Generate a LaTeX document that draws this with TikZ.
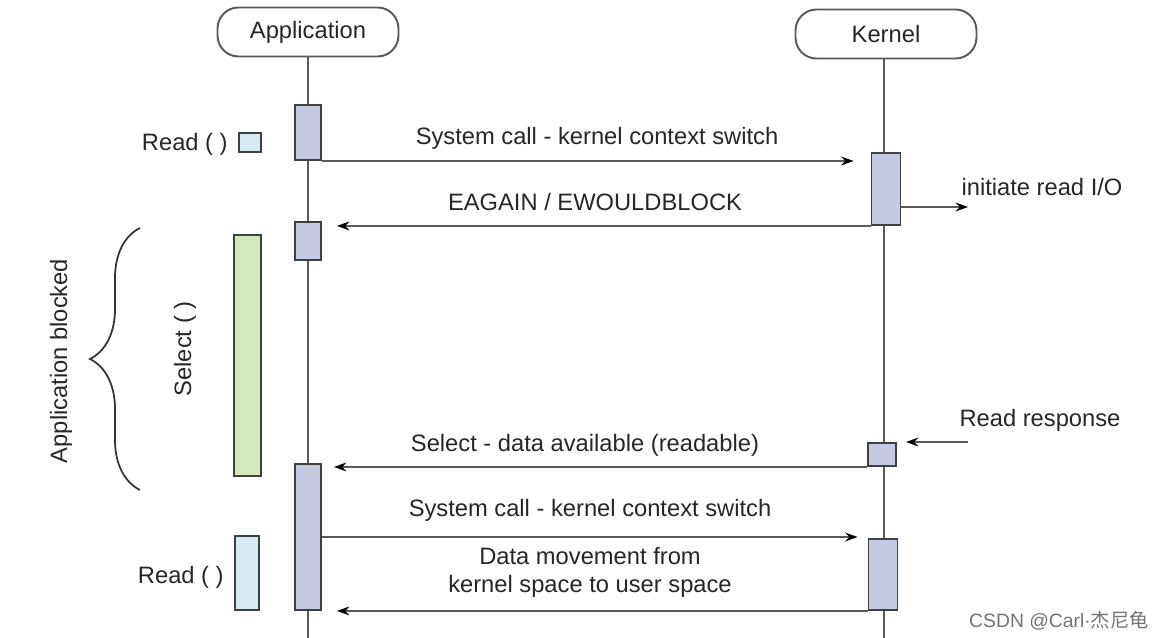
\documentclass[tikz,border=0pt]{standalone}
\usepackage{fontspec}
\setmainfont{Liberation Sans}
\newfontfamily\cjk{Noto Sans CJK SC}
\usepackage{tikz}
\usetikzlibrary{arrows.meta,decorations.pathreplacing}
\definecolor{linegray}{HTML}{5A5A5A}
\definecolor{actblue}{HTML}{C3CAE2}
\definecolor{selgreen}{HTML}{D4E8BE}
\definecolor{readblue}{HTML}{D3EBF1}

\begin{document}
\begin{tikzpicture}[x=0.02cm,y=-0.02cm,font=\fontsize{13.5}{16}\selectfont]
			\tikzstyle{head}=[draw=linegray,line width=1.1pt,rounded corners=0.42cm,minimum width=3.62cm,minimum height=0.98cm,fill=white,text=black!85]
			\tikzstyle{life}=[draw=linegray,line width=1.1pt]
			\tikzstyle{act}=[draw=black!75,line width=1.1pt,fill=actblue,inner sep=0pt,minimum width=0.52cm]
			\tikzstyle{callbox}=[draw=black!75,line width=1.1pt,inner sep=0pt]
			\tikzstyle{msg}=[draw=linegray,line width=1.1pt,-{Stealth[length=7pt,width=5pt,color=black]}]
			\tikzstyle{lbl}=[text=black!85,inner sep=0pt]
			\useasboundingbox (0,0) rectangle (1160,638);
			% lifelines
			\node (app)[head] at (308,32) {Application};
			\node (kern)[head] at (886,34) {Kernel};
			\coordinate (append) at (308,638);
			\coordinate (kernend) at (884,638);
			\draw[life] (app) -- (append);
			\draw[life] (kern.south -| kernend) -- (kernend);

			% activations
			\node (a1)[act,minimum height=1.1cm] at (308,132.5) {};
			\node (k1)[act,minimum width=0.58cm,minimum height=1.44cm] at (886,189) {};
			\node (a2)[act,minimum height=0.76cm] at (308,241) {};
			\node (k2)[act,minimum width=0.56cm,minimum height=0.46cm] at (882,454.5) {};
			\node (a3)[act,minimum height=2.92cm] at (308,537) {};
			\node (k3)[act,minimum width=0.58cm,minimum height=1.42cm] at (883,574.5) {};

			% left side marks
			\node (r1)[callbox,fill=readblue,minimum width=0.44cm,minimum height=0.38cm] at (250,142.5) {};
			\node (sel)[callbox,fill=selgreen,minimum width=0.54cm,minimum height=4.82cm] at (247.5,355.5) {};
			\node (r2)[callbox,fill=readblue,minimum width=0.48cm,minimum height=1.48cm] at (247,573) {};
			\node (r1t)[lbl,anchor=east] at (228,144) {Read ( )};
			\node (r2t)[lbl,anchor=east] at (224,577) {Read ( )};
			\node (selt)[lbl,rotate=90] at (185,349) {Select ( )};
			\draw[draw=black!80,line width=1pt,decorate,decoration={brace,amplitude=1cm}] (140,490) -- (140,228);
			\node (blk)[lbl,rotate=90] at (61,361) {Application blocked};

			% messages
			\draw[msg,shorten >=0.34cm] (a1.south east) -- (a1.south east -| k1.west);
			\node (m1)[lbl] at (597,138) {System call - kernel context switch};
			\draw[msg,shorten >=0.3cm] (k1.south west) -- (k1.south west -| a2.east);
			\node (m2)[lbl] at (595,202) {EAGAIN / EWOULDBLOCK};
			\coordinate (io) at (968,207);
			\draw[msg] (k1.east |- io) -- (io);
			\node (iot)[lbl] at (1042,187) {initiate read I/O};
			\coordinate (rr) at (968,442);
			\draw[msg,shorten >=0.18cm] (rr) -- (k2.east |- rr);
			\node (rrt)[lbl] at (1040,420) {Read response};
			\draw[msg,shorten >=0.24cm] (k2.south west) -- (k2.south west -| a3.east);
			\node (m3)[lbl] at (585,445) {Select - data available (readable)};
			\draw[msg,shorten >=0.2cm] (a3.east) -- (a3.east -| k3.west);
			\node (m4)[lbl] at (590,510) {System call - kernel context switch};
			\draw[msg,shorten >=0.3cm] (k3.south west) -- (k3.south west -| a3.east);
			\node (m5)[lbl,align=center] at (590,572) {Data movement from\\kernel space to user space};

			\node (wm)[inner sep=0pt,text=black!55,font=\fontsize{11}{13}\selectfont] at (1059,621) {CSDN @Carl·{\cjk 杰尼龟}};
		\end{tikzpicture}
\end{document}
